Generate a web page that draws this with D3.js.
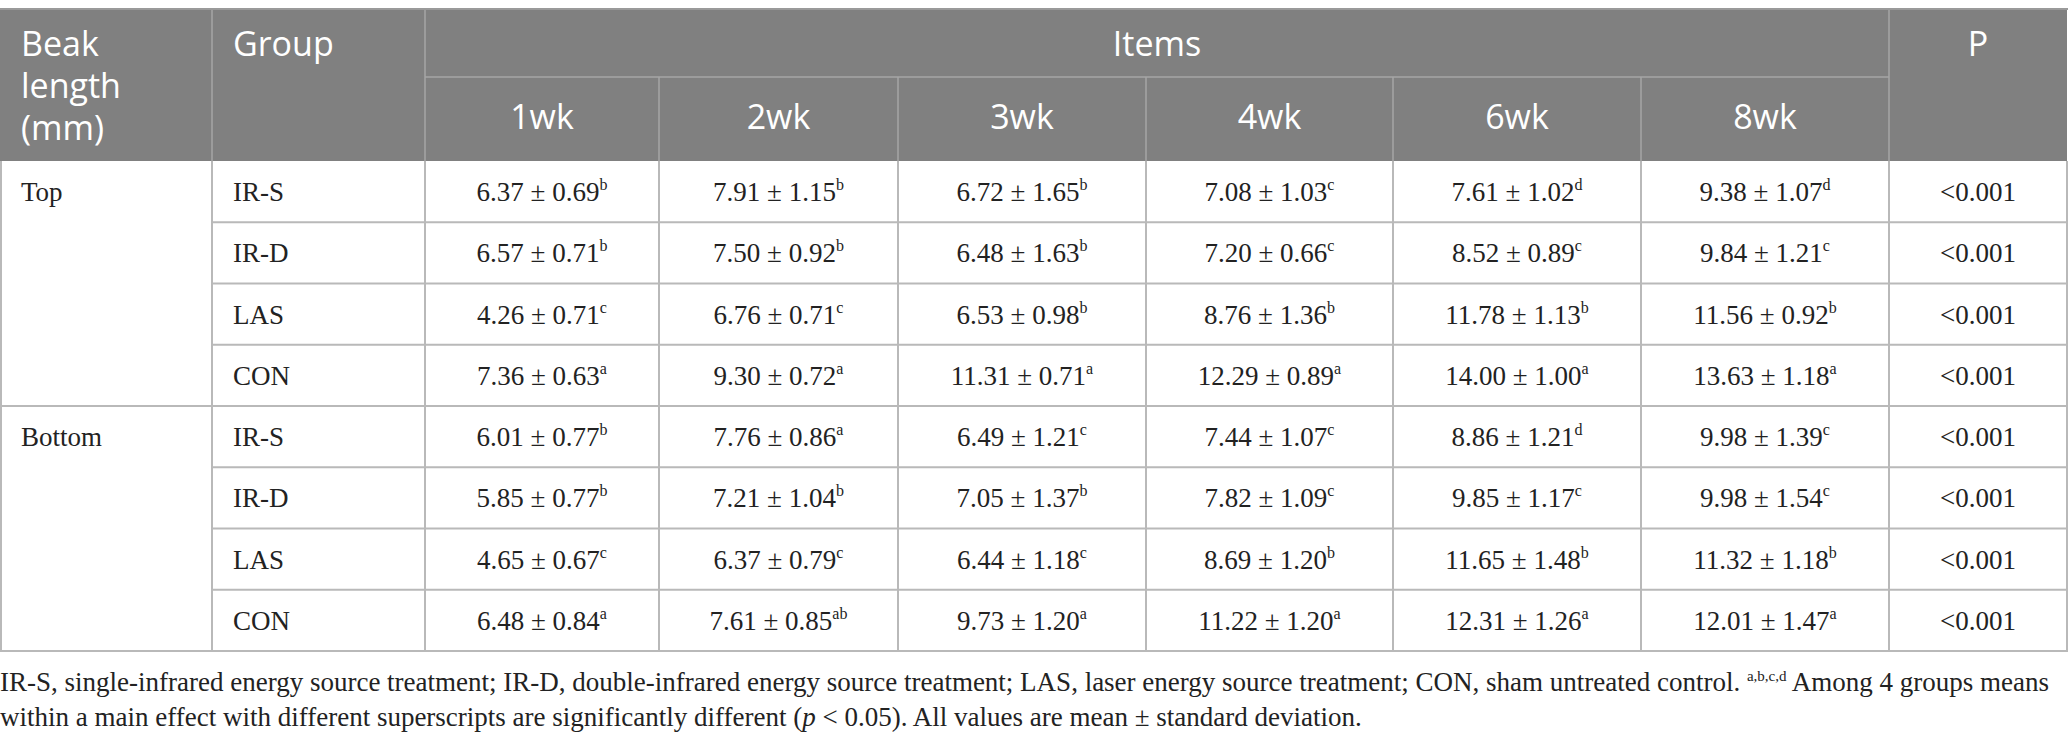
<!DOCTYPE html>
<html>
<head>
<meta charset="utf-8">
<script src="https://cdn.jsdelivr.net/npm/d3@7"></script>
<style>
  html, body { margin: 0; padding: 0; background: #fff; }
  svg { display: block; }
</style>
</head>
<body>
<div id="table"></div>
<script>
'use strict';

// table content
const weeks    = ['1wk', '2wk', '3wk', '4wk', '6wk', '8wk'];
const sections = ['Top', 'Bottom'];
const groups   = ['IR-S', 'IR-D', 'LAS', 'CON'];
const pValues  = ['<0.001', '<0.001', '<0.001', '<0.001', '<0.001', '<0.001', '<0.001', '<0.001'];

// mean ± sd with superscript letters, one row per section/group
const topCells = [
  ['6.37 ± 0.69|b', '7.91 ± 1.15|b', '6.72 ± 1.65|b', '7.08 ± 1.03|c', '7.61 ± 1.02|d', '9.38 ± 1.07|d'],
  ['6.57 ± 0.71|b', '7.50 ± 0.92|b', '6.48 ± 1.63|b', '7.20 ± 0.66|c', '8.52 ± 0.89|c', '9.84 ± 1.21|c'],
  ['4.26 ± 0.71|c', '6.76 ± 0.71|c', '6.53 ± 0.98|b', '8.76 ± 1.36|b', '11.78 ± 1.13|b', '11.56 ± 0.92|b'],
  ['7.36 ± 0.63|a', '9.30 ± 0.72|a', '11.31 ± 0.71|a', '12.29 ± 0.89|a', '14.00 ± 1.00|a', '13.63 ± 1.18|a']
];
const bottomCells = [
  ['6.01 ± 0.77|b', '7.76 ± 0.86|a', '6.49 ± 1.21|c', '7.44 ± 1.07|c', '8.86 ± 1.21|d', '9.98 ± 1.39|c'],
  ['5.85 ± 0.77|b', '7.21 ± 1.04|b', '7.05 ± 1.37|b', '7.82 ± 1.09|c', '9.85 ± 1.17|c', '9.98 ± 1.54|c'],
  ['4.65 ± 0.67|c', '6.37 ± 0.79|c', '6.44 ± 1.18|c', '8.69 ± 1.20|b', '11.65 ± 1.48|b', '11.32 ± 1.18|b'],
  ['6.48 ± 0.84|a', '7.61 ± 0.85|ab', '9.73 ± 1.20|a', '11.22 ± 1.20|a', '12.31 ± 1.26|a', '12.01 ± 1.47|a']
];

const w = 2068;
const h = 745;

const headBg   = '#808080';
const headLine = '#a6a6a6';
const bodyLine = '#b9b9b9';
const sansFont  = "'Open Sans', 'Noto Sans', sans-serif";
const serifFont = "'Liberation Serif', 'DejaVu Serif', serif";

// columns: section, group, weeks..., P
const colKeys  = ['section', 'group'].concat(weeks, ['P']);
const colEdges = [0, 212, 425, 659, 898, 1146, 1393, 1641, 1889, 2067];
const xLeft  = d3.scaleOrdinal().domain(colKeys).range(colEdges.slice(0, -1));
const xRight = d3.scaleOrdinal().domain(colKeys).range(colEdges.slice(1));
const xMid   = k => (xLeft(k) + xRight(k)) / 2;

const tableTop = 9;
const subTop   = 77;
const headBot  = 161;
const tableBot = 651;

const rows = [];
sections.forEach((s, si) => {
  const cells = si === 0 ? topCells : bottomCells;
  groups.forEach((g, gi) => {
    rows.push({ section: s, first: gi === 0, group: g, cells: cells[gi], p: pValues[rows.length] });
  });
});

const y = d3.scaleBand()
  .domain(d3.range(rows.length))
  .range([headBot, tableBot]);

const svg = d3.select('#table')
  .append('svg')
  .attr('width', w)
  .attr('height', h);

// header block
svg.append('rect')
  .attr('x', 0).attr('y', tableTop)
  .attr('width', colEdges[colEdges.length - 1]).attr('height', headBot - tableTop)
  .attr('fill', headBg);

const headG = svg.append('g')
  .attr('font-family', sansFont)
  .attr('font-size', 34)
  .attr('fill', '#fff');

['Beak', 'length', '(mm)'].forEach((t, i) => {
  headG.append('text')
    .attr('x', 21).attr('y', 56 + i * 42)
    .text(t);
});
headG.append('text').attr('x', xLeft('group') + 21).attr('y', 56).text('Group');
headG.append('text')
  .attr('x', (xLeft(weeks[0]) + xRight(weeks[weeks.length - 1])) / 2)
  .attr('y', 56).attr('text-anchor', 'middle').text('Items');
headG.append('text').attr('x', xMid('P')).attr('y', 56).attr('text-anchor', 'middle').text('P');
headG.selectAll('.wk')
  .data(weeks)
  .join('text')
  .attr('class', 'wk')
  .attr('x', d => xMid(d))
  .attr('y', 129)
  .attr('text-anchor', 'middle')
  .text(d => d);

// header grid lines
const hl = svg.append('g').attr('stroke', headLine).attr('stroke-width', 1.5);
hl.append('line')
  .attr('x1', xLeft(weeks[0])).attr('x2', xRight(weeks[weeks.length - 1]))
  .attr('y1', subTop).attr('y2', subTop);
['group', weeks[0], 'P'].forEach(k => {
  hl.append('line').attr('x1', xLeft(k)).attr('x2', xLeft(k)).attr('y1', tableTop).attr('y2', headBot);
});
weeks.slice(1).forEach(k => {
  hl.append('line').attr('x1', xLeft(k)).attr('x2', xLeft(k)).attr('y1', subTop).attr('y2', headBot);
});

// body grid lines
const bl = svg.append('g').attr('stroke', bodyLine).attr('stroke-width', 2);
rows.forEach((r, i) => {
  if (i === 0) return;
  bl.append('line')
    .attr('x1', r.first ? 0 : xLeft('group')).attr('x2', colEdges[colEdges.length - 1])
    .attr('y1', y(i)).attr('y2', y(i));
});
colKeys.slice(1).forEach(k => {
  bl.append('line').attr('x1', xLeft(k)).attr('x2', xLeft(k)).attr('y1', headBot).attr('y2', tableBot);
});
bl.append('line').attr('x1', 1).attr('x2', 1).attr('y1', headBot).attr('y2', tableBot);
bl.append('line').attr('x1', w - 1).attr('x2', w - 1).attr('y1', headBot).attr('y2', tableBot);
bl.append('line').attr('x1', 0).attr('x2', w).attr('y1', tableBot).attr('y2', tableBot);
svg.append('line')
  .attr('x1', 0).attr('x2', w).attr('y1', tableTop).attr('y2', tableTop)
  .attr('stroke', '#9a9a9a').attr('stroke-width', 2);

// body text
const body = svg.append('g')
  .attr('font-family', serifFont)
  .attr('font-size', 27)
  .attr('fill', '#222');

const rowG = body.selectAll('.row')
  .data(rows)
  .join('g')
  .attr('class', 'row')
  .attr('transform', (d, i) => `translate(0,${y(i) + 40})`);

rowG.filter(d => d.first)
  .append('text')
  .attr('x', 21)
  .text(d => d.section);

rowG.append('text')
  .attr('x', xLeft('group') + 21)
  .text(d => d.group);

rowG.each(function (d) {
  const g = d3.select(this);
  d.cells.forEach((c, ci) => {
    const parts = c.split('|');
    const t = g.append('text')
      .attr('x', xMid(weeks[ci]))
      .attr('text-anchor', 'middle');
    t.append('tspan').text(parts[0]);
    t.append('tspan')
      .attr('font-size', 16)
      .attr('dy', -11)
      .text(parts[1]);
  });
  g.append('text')
    .attr('x', xMid('P'))
    .attr('text-anchor', 'middle')
    .text(d.p);
});

// footnote
const foot = svg.append('g')
  .attr('font-family', serifFont)
  .attr('font-size', 27)
  .attr('fill', '#222');

const f1 = foot.append('text').attr('x', 0).attr('y', 691);
f1.append('tspan').text('IR-S, single-infrared energy source treatment; IR-D, double-infrared energy source treatment; LAS, laser energy source treatment; CON, sham untreated control. ');
f1.append('tspan').attr('font-size', 15).attr('dy', -10).text('a,b,c,d');
f1.append('tspan').attr('dy', 10).text(' Among 4 groups means');

const f2 = foot.append('text').attr('x', 0).attr('y', 726);
f2.append('tspan').text('within a main effect with different superscripts are significantly different (');
f2.append('tspan').attr('font-style', 'italic').text('p');
f2.append('tspan').text(' < 0.05). All values are mean ± standard deviation.');
</script>
</body>
</html>
